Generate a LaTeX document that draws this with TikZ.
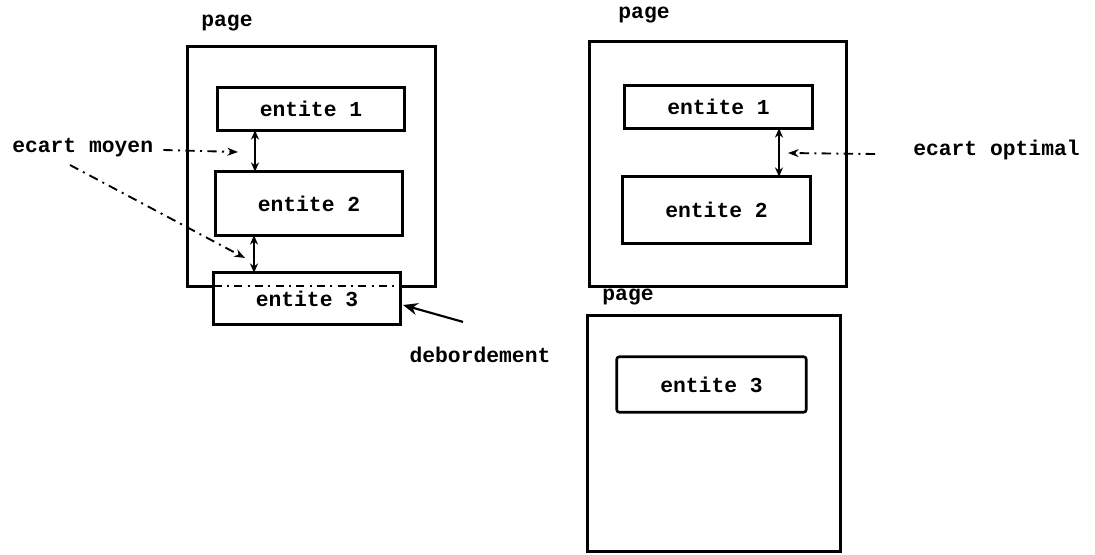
\documentclass[tikz,border=0pt]{standalone}
\usepackage{fontspec}
\setmonofont{Liberation Mono}
\usetikzlibrary{arrows.meta,calc}
\begin{document}
\begin{tikzpicture}[x=0.75pt,y=-0.75pt,
  lbl/.style={font=\ttfamily\bfseries\fontsize{16}{18}\selectfont, inner sep=0pt},
  pagebox/.style={rectangle, inner sep=0pt},
  entbox/.style={rectangle, inner sep=0pt, font=\ttfamily\bfseries\fontsize{16}{18}\selectfont},
  frame/.style={line width=2.2pt},
  eframe/.style={line width=2pt},
  gap/.style={line width=1.5pt, {Stealth[length=7pt,width=6pt]}-{Stealth[length=7pt,width=6pt]}},
  dashdot/.style={line width=1.4pt, dash pattern=on 7pt off 4pt on 1.5pt off 4pt, -{Stealth[length=8pt,width=6pt]}},
  pointer/.style={line width=1.6pt, -{Stealth[length=11pt,width=9pt]}}
]
\useasboundingbox (0,0) rectangle (1095,554);

% ---------- left page ----------
\node[lbl] (lpage) at (227,23) {page};
\node[pagebox, minimum width={247*0.75pt}, minimum height={239*0.75pt}] (lp) at (311.5,166.5) {};
\node[entbox, minimum width={186*0.75pt}, minimum height={42*0.75pt}] (e1) at (311,109) {entite 1};
\node[entbox, minimum width={186*0.75pt}, minimum height={63*0.75pt}] (e2) at (309,203.5) {entite 2};
\node[entbox, minimum width={186*0.75pt}, minimum height={51*0.75pt}, text depth=0pt] (e3) at (307,298.5) {entite 3};
\draw[frame] (e3.west |- lp.south) -- (lp.south west) -- (lp.north west) -- (lp.north east) -- (lp.south east) -- (e3.east |- lp.south);
\draw[line width=1.4pt, dash pattern=on 6pt off 4pt on 1.5pt off 4pt] (e3.west |- lp.south) -- (e3.east |- lp.south);
\draw[eframe] (e1.south west) rectangle (e1.north east);
\draw[eframe] (e2.south west) rectangle (e2.north east);
\draw[eframe] (e3.south west) rectangle (e3.north east);

\coordinate (ga) at (255,0);
\coordinate (gb) at (254,0);
\draw[gap] (e1.south -| ga) -- (e2.north -| ga);
\draw[gap] (e2.south -| gb) -- (e3.north -| gb);

\node[lbl, anchor=west] (moyen) at (12,148) {ecart moyen};
\coordinate (m1) at (238,152);
\coordinate (m2) at (245,258);
\draw[dashdot] ([xshift={10*0.75pt}, yshift={-2*0.75pt}]moyen.east) -- (m1);
\draw[dashdot] ([xshift={58*0.75pt}, yshift={-17*0.75pt}]moyen.west) -- (m2);

\node[lbl] (deb) at (480,355) {debordement};
\coordinate (d1) at (403,305);
\draw[pointer] ([xshift={-17*0.75pt}, yshift={25*0.75pt}]deb.north) -- (d1);

% ---------- right top page ----------
\node[lbl] (rpage1) at (644,15) {page};
\node[pagebox, minimum width={256*0.75pt}, minimum height={244*0.75pt}] (rp1) at (718,164) {};
\node[entbox, minimum width={187*0.75pt}, minimum height={42*0.75pt}] (r1) at (718.5,107) {entite 1};
\node[entbox, minimum width={187*0.75pt}, minimum height={66*0.75pt}] (r2) at (716.5,210) {entite 2};
\draw[frame] (rp1.south west) rectangle (rp1.north east);
\draw[eframe] (r1.south west) rectangle (r1.north east);
\draw[eframe] (r2.south west) rectangle (r2.north east);
\coordinate (gc) at (779,0);
\draw[gap] (r1.south -| gc) -- (r2.north -| gc);

\node[lbl, anchor=west] (optimal) at (913,150) {ecart optimal};
\coordinate (o1) at (788,153);
\draw[dashdot] ([xshift={-38*0.75pt}, yshift={-4*0.75pt}]optimal.west) -- (o1);

% ---------- right bottom page ----------
\node[lbl] (rpage2) at (628,297) {page};
\node[pagebox, minimum width={252*0.75pt}, minimum height={235*0.75pt}] (rp2) at (714,433.5) {};
\node[entbox, minimum width={189*0.75pt}, minimum height={55*0.75pt}] (r3) at (711.5,384.5) {entite 3};
\draw[frame] (rp2.south west) rectangle (rp2.north east);
\draw[eframe, rounded corners=2pt] (r3.south west) rectangle (r3.north east);
\end{tikzpicture}
\end{document}
